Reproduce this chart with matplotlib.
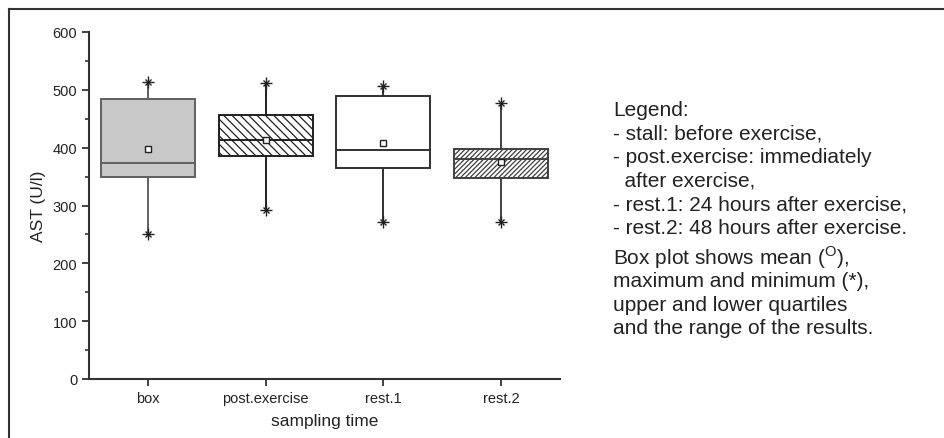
import matplotlib
matplotlib.use("Agg")
import matplotlib.pyplot as plt
from matplotlib.lines import Line2D

plt.rcParams['font.family'] = ['Liberation Sans', 'DejaVu Sans']
plt.rcParams['mathtext.fontset'] = 'custom'
plt.rcParams['mathtext.rm'] = 'Liberation Sans'
plt.rcParams['hatch.linewidth'] = 0.9

# values (AST, U/l)
groups = ['box', 'post.exercise', 'rest.1', 'rest.2']
minimum = [250, 292, 271, 271]
q1 = [350, 385, 365, 347]
median = [373, 414, 396, 381]
q3 = [485, 456, 490, 398]
maximum = [513, 512, 506, 478]
mean = [397, 413, 408, 376]

face_colors = ['#c8c8c8', 'white', 'white', 'white']
hatches = [None, '\\\\\\\\', None, '///////']
edge_colors = ['#606060', '#202020', '#303030', '#404040']

legend_lines = [
    'Legend:',
    '- stall: before exercise,',
    '- post.exercise: immediately',
    '  after exercise,',
    '- rest.1: 24 hours after exercise,',
    '- rest.2: 48 hours after exercise.',
]
note_lines = [
    'Box plot shows mean ($^{\\mathrm{O}}$),',
    'maximum and minimum (*),',
    'upper and lower quartiles',
    'and the range of the results.',
]

fig = plt.figure(figsize=(9.44, 4.39), dpi=100)
W, H = 944, 439

# frame around the figure (top and left only visible)
fig.add_artist(Line2D([9 / W, 9 / W], [0, 1 - 10 / H], color='#333333', lw=1.5))
fig.add_artist(Line2D([9 / W, 1], [1 - 10 / H, 1 - 10 / H], color='#333333', lw=1.5))

ax = fig.add_axes([89 / W, (H - 380) / H, (560 - 89) / W, (380 - 33) / H])

stats = []
for i in range(len(groups)):
    stats.append(dict(label=groups[i], whislo=minimum[i], q1=q1[i], med=median[i],
                      q3=q3[i], whishi=maximum[i], mean=mean[i], fliers=[]))

positions = list(range(1, len(groups) + 1))
bp = ax.bxp(stats, positions=positions, widths=0.8, patch_artist=True,
            showmeans=True, showcaps=False,
            meanprops=dict(marker='s', markersize=4, markerfacecolor='white',
                           markeredgecolor='#222222', markeredgewidth=1))

for i, box in enumerate(bp['boxes']):
    box.set_facecolor(face_colors[i])
    box.set_edgecolor(edge_colors[i])
    box.set_linewidth(1.4)
    if hatches[i]:
        box.set_hatch(hatches[i])
for i, med in enumerate(bp['medians']):
    med.set_color(edge_colors[i])
    med.set_linewidth(1.4)
for i, wh in enumerate(bp['whiskers']):
    wh.set_color(edge_colors[i // 2])
    wh.set_linewidth(1.4)

# max / min markers
for vals in (maximum, minimum):
    ax.plot(positions, vals, linestyle='none', marker='+', markersize=8,
            color='#222222', markeredgewidth=1)
    ax.plot(positions, vals, linestyle='none', marker='x', markersize=4,
            color='#222222', markeredgewidth=1)

ax.set_xlim(0.5, 4.5)
ax.set_ylim(0, 600)
ax.set_yticks([0, 100, 200, 300, 400, 500, 600])
ax.set_yticks(range(50, 600, 100), minor=True)
ax.set_xticks(positions)
ax.set_xticklabels(groups)
ax.spines['top'].set_visible(False)
ax.spines['right'].set_visible(False)
for s in ['left', 'bottom']:
    ax.spines[s].set_linewidth(1.5)
    ax.spines[s].set_color('#333333')
ax.tick_params(axis='both', which='major', direction='out', length=5, width=1.3,
               labelsize=10.5, colors='#333333', labelcolor='#222222')
ax.tick_params(axis='y', which='minor', direction='out', length=3, width=1.2, colors='#333333')
ax.set_ylabel('AST (U/l)', fontsize=12.5, color='#222222', labelpad=5)
ax.set_xlabel('sampling time', fontsize=12.5, color='#222222', labelpad=6)

# legend text block
y = 111
for line in legend_lines:
    fig.text(613 / W, 1 - y / H, line, fontsize=15, color='#222222', va='center', ha='left')
    y += 23.4
y = 258
for line in note_lines:
    fig.text(613 / W, 1 - y / H, line, fontsize=15, color='#222222', va='center', ha='left')
    y += 23.6

fig.savefig('out.png', dpi=100)
